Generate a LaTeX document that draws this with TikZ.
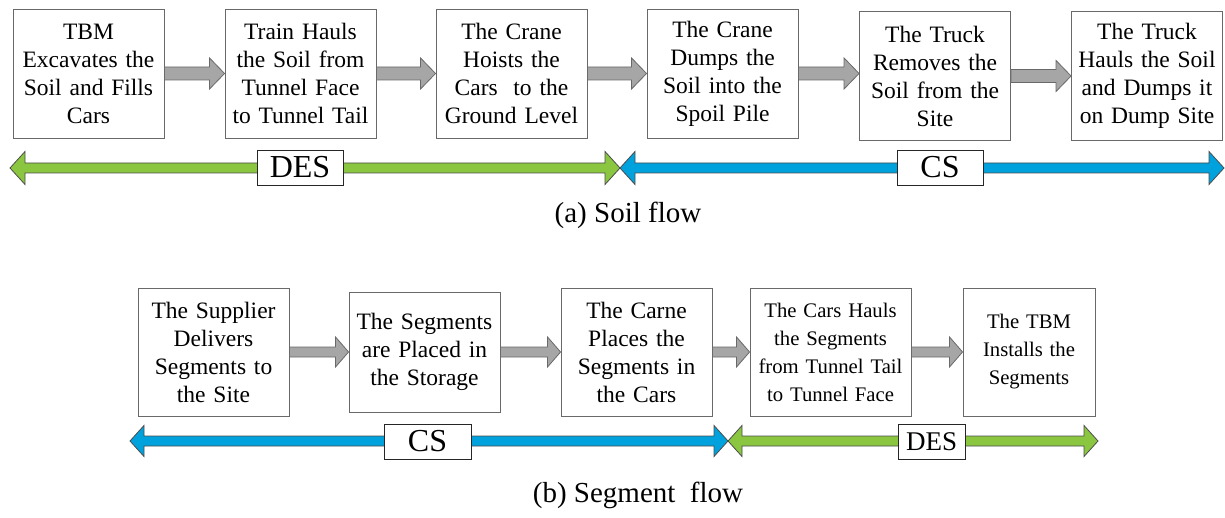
\documentclass[tikz,border=0pt]{standalone}
\usepackage{fontspec}
\setmainfont{Liberation Serif}
\usepackage{tikz}
\usetikzlibrary{calc}
\usetikzlibrary{positioning}

\definecolor{desgreen}{RGB}{138,198,64}
\definecolor{csblue}{RGB}{0,162,222}
\definecolor{stepgray}{RGB}{166,166,166}
\definecolor{edgegray}{RGB}{105,105,105}

\tikzset{
	box/.style={draw=edgegray, line width=0.9pt, fill=white, minimum width=151pt, minimum height=129pt, inner sep=0pt, text width=148pt, align=center, font=\fontsize{23.5}{28}\selectfont},
	smallbox/.style={box, font=\fontsize{20.7}{28}\selectfont},
	tag/.style={draw=black!85, line width=0.9pt, fill=white, minimum height=35pt, inner sep=0pt, font=\fontsize{32}{32}\selectfont},
	caption/.style={font=\fontsize{29}{32}\selectfont},
	stepflow/.style={fill=stepgray, draw=edgegray, line width=0.8pt},
	desflow/.style={fill=desgreen, draw=black!70, line width=0.8pt},
	csflow/.style={fill=csblue, draw=black!70, line width=0.8pt}
}

% block arrow from #1 straight across to #2: shaft half width, head half width, head length, style
\newcommand{\flowarrow}[6]{%
	\path[#6] ($(#1)+(0,#3)$) -- ($(#1 -| #2)+(-#5,#3)$) -- ($(#1 -| #2)+(-#5,#4)$) -- (#1 -| #2)
		-- ($(#1 -| #2)+(-#5,-#4)$) -- ($(#1 -| #2)+(-#5,-#3)$) -- ($(#1)+(0,-#3)$) -- cycle;}
% double headed block arrow between #1 and #2
\newcommand{\spanarrow}[6]{%
	\path[#6] (#1) -- ($(#1)+(#5,#4)$) -- ($(#1)+(#5,#3)$) -- ($(#2)+(-#5,#3)$) -- ($(#2)+(-#5,#4)$) -- (#2)
		-- ($(#2)+(-#5,-#4)$) -- ($(#2)+(-#5,-#3)$) -- ($(#1)+(#5,-#3)$) -- ($(#1)+(#5,-#4)$) -- cycle;}

\begin{document}
\begin{tikzpicture}[x=1pt, y=-1pt]

	\useasboundingbox (0,0) rectangle (1225,518);

	% soil flow
	\node [box] (excavate) at (88.5,73.5) {TBM\\Excavates the\\Soil and Fills\\Cars};
	\node [box] (train) at (300.5,73.5) {Train Hauls\\the Soil from\\Tunnel Face\\to Tunnel Tail};
	\node [box] (hoist) at (511.5,73.5) {The Crane\\Hoists the\\Cars\ \ to the\\Ground Level};
	\node [box] (dump) at (722.5,73.5) {The Crane\\Dumps the\\Soil into the\\Spoil Pile};
	\node [box] (remove) at (935,76) {The Truck\\Removes the\\Soil from the\\Site};
	\node [box] (haul) at (1147,76) {The Truck\\Hauls the Soil\\and Dumps it\\on Dump Site};

	\flowarrow{excavate.east}{train.west}{6.5}{15.5}{15}{stepflow}
	\flowarrow{train.east}{hoist.west}{6.5}{15.5}{15}{stepflow}
	\flowarrow{hoist.east}{dump.west}{6.5}{15.5}{15}{stepflow}
	\flowarrow{dump.east}{remove.west}{6.5}{15.5}{15}{stepflow}
	\flowarrow{remove.east}{haul.west}{6.5}{15.5}{15}{stepflow}

	\coordinate (soilL) at (10,168);
	\coordinate (soilM) at (620,168);
	\coordinate (soilR) at (1224,168);
	\spanarrow{soilL}{soilM}{5}{16.5}{15}{desflow}
	\spanarrow{soilM}{soilR}{5}{16.5}{15}{csflow}
	\node [tag, minimum width=86pt] (soildes) at (300,167.5) {DES};
	\node [tag, minimum width=86pt] (soilcs) at (940,167.5) {CS};

	\node [caption] (capa) at (628,215) {(a) Soil flow};

	% segment flow
	\node [box, minimum height=128pt] (supply) at (213.5,352) {The Supplier\\Delivers\\Segments to\\the Site};
	\node [box, minimum height=120pt] (store) at (424.5,352) {The Segments\\are Placed in\\the Storage};
	\node [box, minimum height=128pt] (place) at (636.5,352) {The Carne\\Places the\\Segments in\\the Cars};
	\node [smallbox, minimum height=128pt, minimum width=161pt, text width=158pt] (carry) at (830.5,352) {The Cars Hauls\\the Segments\\from Tunnel Tail\\to Tunnel Face};
	\node [smallbox, minimum height=128pt, minimum width=132pt, text width=130pt] (install) at (1029,352) {The TBM\\Installs the\\Segments};

	\flowarrow{supply.east}{store.west}{5}{15}{13}{stepflow}
	\flowarrow{store.east}{place.west}{5}{15}{13}{stepflow}
	\flowarrow{place.east}{carry.west}{5}{15}{13}{stepflow}
	\flowarrow{carry.east}{install.west}{5}{15}{13}{stepflow}

	\coordinate (segL) at (130,441);
	\coordinate (segM) at (728,441);
	\coordinate (segR) at (1098,441);
	\spanarrow{segL}{segM}{5}{15.5}{14}{csflow}
	\spanarrow{segM}{segR}{5}{15.5}{14}{desflow}
	\node [tag, minimum width=87pt] (segcs) at (427.5,441.5) {CS};
	\node [tag, minimum width=67pt, font=\fontsize{27}{30}\selectfont] (segdes) at (931.5,441.5) {DES};

	\node [caption] (capb) at (638,495) {(b) Segment\ \ flow};

\end{tikzpicture}
\end{document}
